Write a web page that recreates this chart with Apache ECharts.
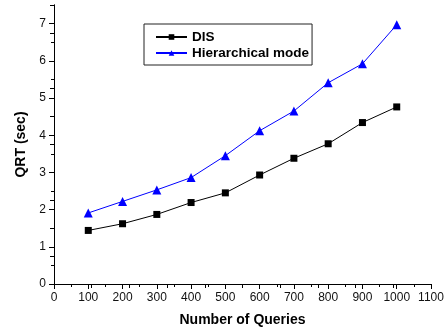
<!DOCTYPE html>
<html><head><meta charset="utf-8">
<script src="https://cdn.jsdelivr.net/npm/echarts@6/dist/echarts.min.js"></script>
<style>html,body{margin:0;padding:0;background:#fff}#c{width:445px;height:328px}</style>
</head><body><div id="c"></div>
<script>
const queries = [100, 200, 300, 400, 500, 600, 700, 800, 900, 1000];
const disValues = [1.44, 1.62, 1.87, 2.19, 2.45, 2.93, 3.38, 3.77, 4.34, 4.76];
const hierValues = [1.91, 2.22, 2.53, 2.86, 3.45, 4.12, 4.65, 5.41, 5.92, 6.97];
const seriesNames = ['DIS', 'Hierarchical mode'];
const yTickValues = [0, 1, 2, 3, 4, 5, 6, 7];
const xTitle = 'Number of Queries';
const yTitle = 'QRT (sec)';

const font = 'Liberation Sans, Arial, sans-serif';
const chart = echarts.init(document.getElementById('c'), null, {renderer: 'canvas'});
const axisLineStyle = {color: '#000', width: 1};
chart.setOption({
  animation: false,
  grid: {left: 54, right: 14, top: 5, bottom: 44, containLabel: false, outerBoundsMode: 'none'},
  legend: {
    orient: 'vertical', left: 144, top: 24,
    borderColor: '#222', borderWidth: 1, padding: [6, 3, 5, 11],
    itemWidth: 31, itemHeight: 7, itemGap: 2,
    textStyle: {fontFamily: font, fontWeight: 'bold', fontSize: 13.5, color: '#000'},
    data: seriesNames
  },
  xAxis: [{
    type: 'value', min: 0, max: 1100, interval: 100,
    name: xTitle, nameLocation: 'middle', nameGap: 29,
    nameTextStyle: {fontFamily: font, fontWeight: 'bold', fontSize: 14, color: '#000'},
    axisLine: {show: true, lineStyle: axisLineStyle},
    axisTick: {show: true, length: 5, inside: false, lineStyle: axisLineStyle},
    minorTick: {show: true, splitNumber: 2, length: 3, lineStyle: axisLineStyle},
    axisLabel: {fontFamily: font, fontSize: 12, color: '#111', margin: 8, formatter: v => String(v)},
    splitLine: {show: false}
  }, {
    type: 'value', position: 'top', min: 0, max: 10, interval: 1,
    axisLine: {show: true, lineStyle: axisLineStyle},
    axisTick: {show: true, inside: true, length: 4, lineStyle: axisLineStyle},
    axisLabel: {show: false}, splitLine: {show: false}
  }],
  yAxis: [{
    type: 'value', min: 0, max: 7.5, interval: 1,
    name: yTitle, nameLocation: 'middle', nameGap: 23, nameRotate: 90,
    nameTextStyle: {fontFamily: font, fontWeight: 'bold', fontSize: 14, color: '#000'},
    axisLine: {show: true, lineStyle: axisLineStyle},
    axisTick: {show: true, length: 5, inside: false, lineStyle: axisLineStyle, customValues: yTickValues},
    minorTick: {show: false},
    axisLabel: {fontFamily: font, fontSize: 12, color: '#111', margin: 8, customValues: yTickValues,
      formatter: v => (Number.isInteger(v) ? String(v) : '')},
    splitLine: {show: false}
  }, {
    type: 'value', position: 'right', min: 0, max: 10, interval: 1,
    axisLine: {show: true, lineStyle: axisLineStyle},
    axisTick: {show: true, inside: true, length: 4, lineStyle: axisLineStyle},
    axisLabel: {show: false}, splitLine: {show: false}
  }, {
    type: 'value', position: 'left', offset: 0, min: 0, max: 7.5, interval: 0.5,
    axisLine: {show: false},
    axisTick: {show: true, inside: false, length: 3, lineStyle: axisLineStyle},
    axisLabel: {show: false}, splitLine: {show: false}
  }],
  series: [{
    name: seriesNames[0], type: 'line', xAxisIndex: 0, yAxisIndex: 0,
    data: queries.map((q, i) => [q, disValues[i]]),
    symbol: 'rect', symbolSize: 7,
    lineStyle: {color: '#000', width: 1},
    itemStyle: {color: '#000'}
  }, {
    name: seriesNames[1], type: 'line', xAxisIndex: 0, yAxisIndex: 0,
    data: queries.map((q, i) => [q, hierValues[i]]),
    symbol: 'triangle', symbolSize: 9,
    lineStyle: {color: '#0000ff', width: 1},
    itemStyle: {color: '#0000ff'}
  }]
});
</script></body></html>
